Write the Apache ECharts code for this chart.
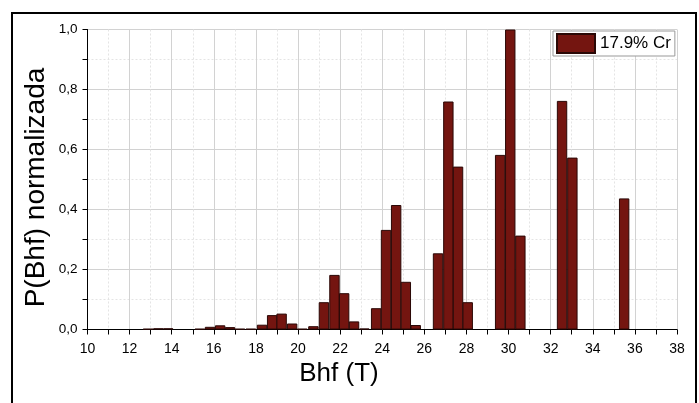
<!DOCTYPE html>
<html>
<head>
<meta charset="utf-8">
<script src="https://cdn.jsdelivr.net/npm/echarts@6/dist/echarts.min.js"></script>
<style>
  html, body { margin: 0; padding: 0; background: #fff; }
  #chart { width: 699px; height: 403px; }
</style>
</head>
<body>
<div id="chart"></div>
<script>
// Hyperfine field distribution, 17.9% Cr sample
const bhfCenters = [
  12.88, 13.36, 13.83,
  15.34, 15.82, 16.30, 16.77, 17.24, 17.76,
  18.29, 18.77, 19.22, 19.72, 20.20, 20.73,
  21.23, 21.73, 22.19, 22.66, 23.15,
  23.71, 24.18, 24.66, 25.12, 25.59,
  26.65, 27.14, 27.60, 28.06,
  29.60, 30.08, 30.56,
  32.54, 33.03,
  35.49
];
const probability = [
  0.002, 0.004, 0.004,
  0.002, 0.009, 0.014, 0.008, 0.002, 0.002,
  0.016, 0.048, 0.053, 0.020, 0.002, 0.011,
  0.091, 0.182, 0.121, 0.027, 0.003,
  0.071, 0.332, 0.415, 0.159, 0.015,
  0.254, 0.760, 0.543, 0.091,
  0.582, 1.000, 0.313,
  0.762, 0.573,
  0.437
];
const seriesName = '17.9% Cr';
const xTitle = 'Bhf (T)';
const yTitle = 'P(Bhf) normalizada';

const FONT = 'Liberation Sans, Arial, sans-serif';
const chart = echarts.init(document.getElementById('chart'), null, { renderer: 'canvas' });

const barData = bhfCenters.map((x, i) => [x, probability[i]]);

chart.setOption({
  animation: false,
  backgroundColor: '#fff',
  grid: { left: 87.5, right: 22, top: 29.5, bottom: 73.5, containLabel: false },
  legend: {
    show: true,
    left: 553,
    top: 31,
    orient: 'vertical',
    icon: 'rect',
    itemWidth: 38,
    itemHeight: 19,
    padding: [2, 4, 2, 3],
    borderColor: '#999',
    borderWidth: 1,
    backgroundColor: '#fff',
    textStyle: { fontFamily: FONT, fontSize: 17, color: '#000' },
    data: [seriesName]
  },
  xAxis: {
    type: 'value',
    min: 10,
    max: 38,
    interval: 2,
    axisLine: { show: true, lineStyle: { color: '#000', width: 1 } },
    axisTick: { show: true, inside: false, length: 5, lineStyle: { color: '#000' } },
    minorTick: { show: true, splitNumber: 2, length: 5, lineStyle: { color: '#000' } },
    axisLabel: { fontFamily: FONT, fontSize: 14, color: '#000', margin: 13 },
    splitLine: { show: true, lineStyle: { color: '#d2d2d2', width: 1 } },
    minorSplitLine: { show: true, lineStyle: { color: '#e4e4e4', type: [2, 2], width: 1 } }
  },
  yAxis: {
    type: 'value',
    min: 0,
    max: 1,
    interval: 0.2,
    axisLine: { show: true, lineStyle: { color: '#000', width: 1 } },
    axisTick: { show: true, inside: false, length: 5, lineStyle: { color: '#000' } },
    minorTick: { show: true, splitNumber: 2, length: 5, lineStyle: { color: '#000' } },
    axisLabel: {
      fontFamily: FONT, fontSize: 13.5, color: '#000', margin: 10,
      formatter: v => v.toFixed(1).replace('.', ',')
    },
    splitLine: { show: true, lineStyle: { color: '#d2d2d2', width: 1 } },
    minorSplitLine: { show: true, lineStyle: { color: '#e4e4e4', type: [2, 2], width: 1 } }
  },
  series: [{
    name: seriesName,
    type: 'bar',
    barWidth: 10.4,
    data: barData,
    itemStyle: { color: '#741510', borderColor: '#2a0806', borderWidth: 1 }
  }],
  graphic: [
    {
      type: 'text',
      x: 339, y: 374,
      style: {
        text: xTitle, fontFamily: FONT, fontSize: 26, fill: '#000',
        textAlign: 'center', textVerticalAlign: 'middle'
      }
    },
    {
      type: 'text',
      x: 36, y: 187.5,
      rotation: Math.PI / 2,
      style: {
        text: yTitle, fontFamily: FONT, fontSize: 28, fill: '#000',
        textAlign: 'center', textVerticalAlign: 'middle'
      }
    },
    {
      type: 'rect',
      silent: true,
      shape: { x: 12, y: 13, width: 684, height: 400 },
      style: { fill: 'none', stroke: '#000', lineWidth: 2 }
    }
  ]
});
</script>
</body>
</html>
